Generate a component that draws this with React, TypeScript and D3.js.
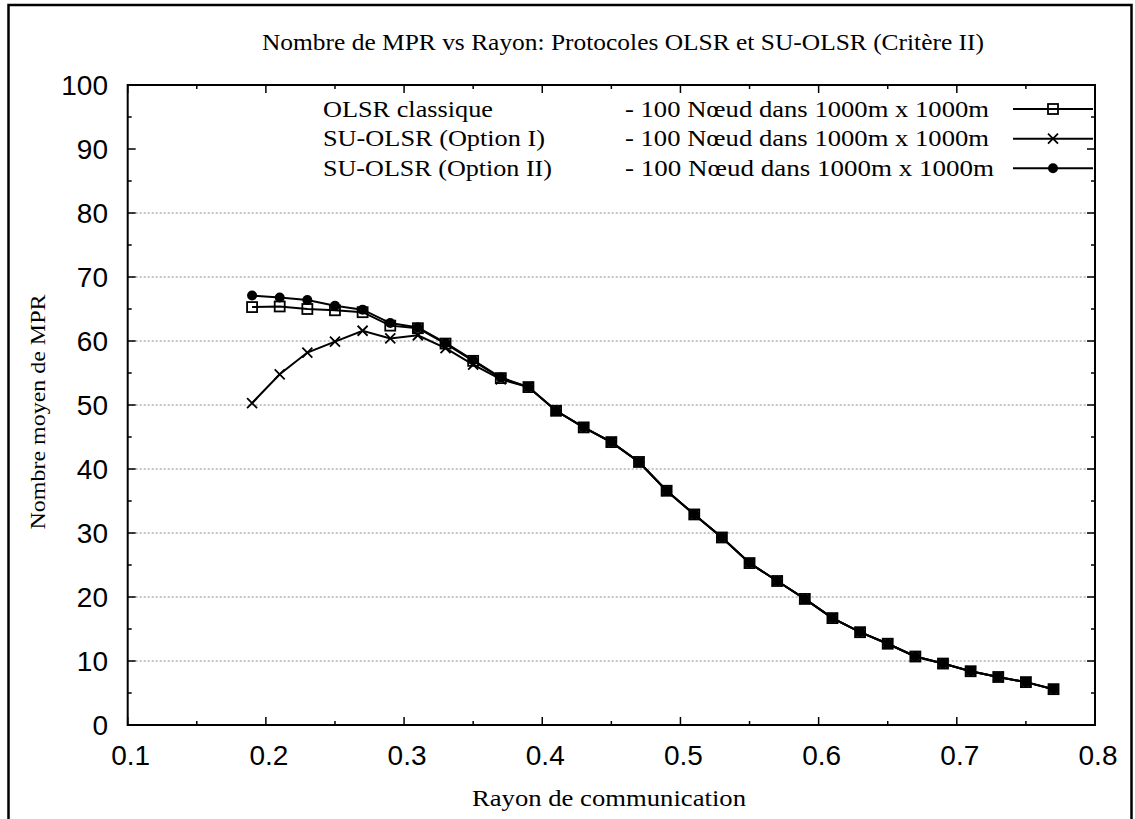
import React from 'react';
import * as d3 from 'd3';

const width = 1135;
const height = 819;
const margin = { top: 85, right: 40, bottom: 94, left: 127.7 };

// rayon de communication
const rayons = [0.19, 0.21, 0.23, 0.25, 0.27, 0.29, 0.31, 0.33, 0.35, 0.37,
  0.39, 0.41, 0.43, 0.45, 0.47, 0.49, 0.51, 0.53, 0.55, 0.57,
  0.59, 0.61, 0.63, 0.65, 0.67, 0.69, 0.71, 0.73, 0.75, 0.77];

const olsrClassique = [65.3, 65.4, 65.0, 64.8, 64.5, 62.4, 62.0, 59.6, 56.9, 54.2,
  52.8, 49.1, 46.5, 44.2, 41.1, 36.6, 32.9, 29.3, 25.3, 22.5,
  19.7, 16.7, 14.5, 12.7, 10.7, 9.6, 8.4, 7.5, 6.7, 5.6];

const suOlsrOption1 = [50.3, 54.8, 58.2, 59.9, 61.6, 60.4, 60.9, 58.9, 56.3, 54.0,
  52.8, 49.1, 46.5, 44.2, 41.1, 36.6, 32.9, 29.3, 25.3, 22.5,
  19.7, 16.7, 14.5, 12.7, 10.7, 9.6, 8.4, 7.5, 6.7, 5.6];

const suOlsrOption2 = [67.1, 66.8, 66.4, 65.5, 64.9, 62.8, 62.1, 59.7, 57.0, 54.3,
  52.8, 49.1, 46.5, 44.2, 41.1, 36.6, 32.9, 29.3, 25.3, 22.5,
  19.7, 16.7, 14.5, 12.7, 10.7, 9.6, 8.4, 7.5, 6.7, 5.6];

const xTicks = [0.1, 0.2, 0.3, 0.4, 0.5, 0.6, 0.7, 0.8];
const xMinor = [0.15, 0.25, 0.35, 0.45, 0.55, 0.65, 0.75];
const yTicks = [0, 10, 20, 30, 40, 50, 60, 70, 80, 90, 100];
const yMinor = [5, 15, 25, 35, 45, 55, 65, 75, 85, 95];
const yGrid = [10, 20, 30, 40, 50, 60, 70, 80];

const legendNames = ['OLSR classique', 'SU-OLSR (Option I)', 'SU-OLSR (Option II)'];
const legendDesc = '- 100 N\u0153ud dans 1000m x 1000m';

const serifStyle = { fontFamily: 'Liberation Serif' };
const sansStyle = { fontFamily: 'Liberation Sans' };

function Marker({ kind, cx, cy }: { kind: string; cx: number; cy: number }) {
  if (kind === 'square') {
    return <rect x={cx - 5} y={cy - 5} width={10} height={10} fill="none" stroke="#000" strokeWidth={1.8} />;
  }
  if (kind === 'cross') {
    return (
      <path d={`M${cx - 5},${cy - 5}L${cx + 5},${cy + 5}M${cx - 5},${cy + 5}L${cx + 5},${cy - 5}`}
        stroke="#000" strokeWidth={1.8} fill="none" />
    );
  }
  return <circle cx={cx} cy={cy} r={5} fill="#000" />;
}

export default function App() {
  const x = d3.scaleLinear().domain([0.1, 0.8]).range([margin.left, width - margin.right]);
  const y = d3.scaleLinear().domain([0, 100]).range([height - margin.bottom, margin.top]);
  const x0 = x(0.1), x1 = x(0.8), y0 = y(0), y1 = y(100);

  const series = [
    { values: olsrClassique, kind: 'square' },
    { values: suOlsrOption1, kind: 'cross' },
    { values: suOlsrOption2, kind: 'circle' },
  ];

  const line = d3.line<number>()
    .x((_, i) => x(rayons[i]))
    .y((d) => y(d));

  const legendRows = [109, 138.7, 168.3];
  const nameLen = [170, 222, 229];
  const descEnd = [989, 989, 994];

  return (
    <svg width={width} height={height} style={{ position: 'absolute', left: 0, top: 0, background: '#fff' }}>
      <rect x={8.5} y={5} width={1123} height={830} fill="#fff" stroke="#000" strokeWidth={2.5} />

      <text x={262} y={50} style={serifStyle} fontSize={23} textLength={722} lengthAdjust="spacingAndGlyphs">
        Nombre de MPR vs Rayon: Protocoles OLSR et SU-OLSR (Critère II)
      </text>

      {/* grid */}
      {yGrid.map((t) => (
        <line key={'g' + t} x1={x0} x2={x1} y1={y(t)} y2={y(t)} stroke="#888" strokeWidth={1} strokeDasharray="2,2" />
      ))}

      {/* ticks */}
      {xTicks.map((t) => (
        <g key={'xt' + t}>
          <line x1={x(t)} x2={x(t)} y1={y0} y2={y0 - 8} stroke="#000" strokeWidth={1.5} />
          <line x1={x(t)} x2={x(t)} y1={y1} y2={y1 + 8} stroke="#000" strokeWidth={1.5} />
          <text x={x(t) + 3} y={765} textAnchor="middle" style={sansStyle} fontSize={28}>{t.toFixed(1)}</text>
        </g>
      ))}
      {xMinor.map((t) => (
        <g key={'xm' + t}>
          <line x1={x(t)} x2={x(t)} y1={y0} y2={y0 - 4} stroke="#000" strokeWidth={1.5} />
          <line x1={x(t)} x2={x(t)} y1={y1} y2={y1 + 4} stroke="#000" strokeWidth={1.5} />
        </g>
      ))}
      {yTicks.map((t) => (
        <g key={'yt' + t}>
          <line x1={x0} x2={x0 + 8} y1={y(t)} y2={y(t)} stroke="#000" strokeWidth={1.5} />
          <line x1={x1} x2={x1 - 8} y1={y(t)} y2={y(t)} stroke="#000" strokeWidth={1.5} />
          <text x={108} y={y(t)} dy="0.36em" textAnchor="end" style={sansStyle} fontSize={28}>{t}</text>
        </g>
      ))}
      {yMinor.map((t) => (
        <g key={'ym' + t}>
          <line x1={x0} x2={x0 + 4} y1={y(t)} y2={y(t)} stroke="#000" strokeWidth={1.5} />
          <line x1={x1} x2={x1 - 4} y1={y(t)} y2={y(t)} stroke="#000" strokeWidth={1.5} />
        </g>
      ))}

      <rect x={x0} y={y1} width={x1 - x0} height={y0 - y1} fill="none" stroke="#000" strokeWidth={2} />

      {/* axis titles */}
      <text x={472} y={806} style={serifStyle} fontSize={23} textLength={274} lengthAdjust="spacingAndGlyphs">
        Rayon de communication
      </text>
      <text transform={`translate(45, ${412}) rotate(-90)`} textAnchor="middle" style={serifStyle} fontSize={22}
        textLength={235} lengthAdjust="spacingAndGlyphs">
        Nombre moyen de MPR
      </text>

      {/* legend */}
      {legendNames.map((name, i) => (
        <g key={name}>
          <text x={323} y={legendRows[i] + 7.5} style={serifStyle} fontSize={23} textLength={nameLen[i]} lengthAdjust="spacingAndGlyphs">
            {name}
          </text>
          <text x={descEnd[i]} y={legendRows[i] + 7.5} textAnchor="end" style={serifStyle} fontSize={23}
            textLength={descEnd[i] - 625} lengthAdjust="spacingAndGlyphs">
            {legendDesc}
          </text>
          <line x1={1013} x2={1093} y1={legendRows[i]} y2={legendRows[i]} stroke="#000" strokeWidth={2} />
          <Marker kind={series[i].kind} cx={1053} cy={legendRows[i]} />
        </g>
      ))}

      {/* series */}
      {series.map((s, si) => (
        <g key={'s' + si}>
          <path d={line(s.values) || ''} fill="none" stroke="#000" strokeWidth={2} />
          {s.values.map((v, i) => (
            <Marker key={i} kind={s.kind} cx={x(rayons[i])} cy={y(v)} />
          ))}
        </g>
      ))}
    </svg>
  );
}
